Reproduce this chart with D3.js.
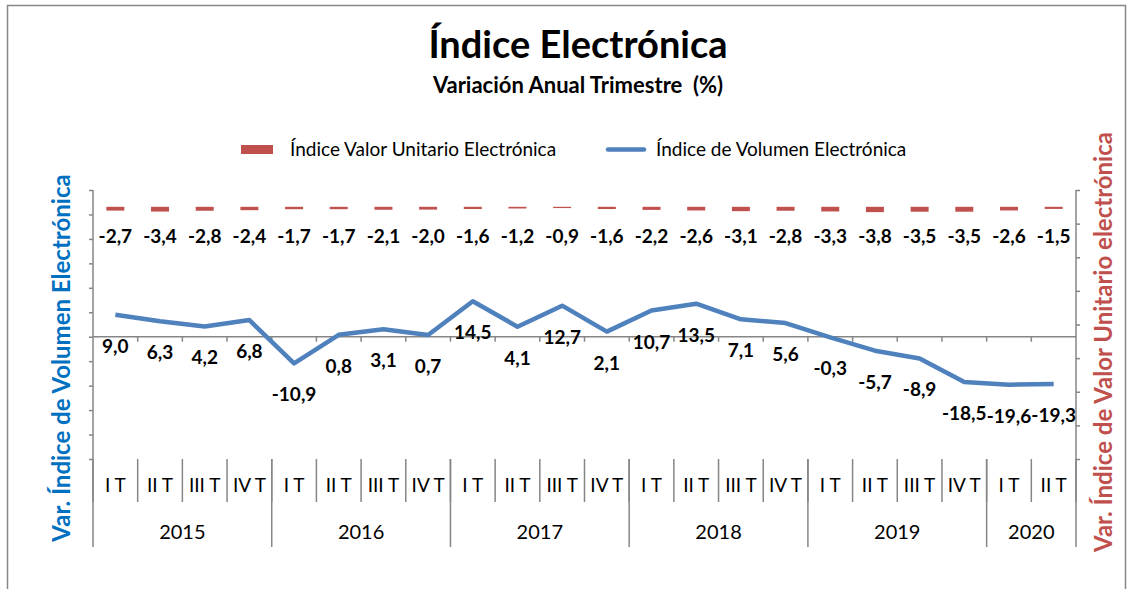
<!DOCTYPE html>
<html>
<head>
<meta charset="utf-8">
<script src="https://cdn.jsdelivr.net/npm/d3@7"></script>
<style>
  body { margin: 0; background: #fff; }
  svg text { font-family: Lato, "Open Sans", sans-serif; white-space: pre; }
</style>
</head>
<body>
<div id="chart"></div>
<script>
// data
var quarters = ["I T","II T","III T","IV T","I T","II T","III T","IV T","I T","II T","III T","IV T",
                "I T","II T","III T","IV T","I T","II T","III T","IV T","I T","II T"];
var years = ["2015","2016","2017","2018","2019","2020"];
var yearSpans = [4, 4, 4, 4, 4, 2];
var volumen = [9.0, 6.3, 4.2, 6.8, -10.9, 0.8, 3.1, 0.7, 14.5, 4.1, 12.7, 2.1,
               10.7, 13.5, 7.1, 5.6, -0.3, -5.7, -8.9, -18.5, -19.6, -19.3];
var valorUnitario = [-2.7, -3.4, -2.8, -2.4, -1.7, -1.7, -2.1, -2.0, -1.6, -1.2, -0.9, -1.6,
                     -2.2, -2.6, -3.1, -2.8, -3.3, -3.8, -3.5, -3.5, -2.6, -1.5];
var leftTicks = [-50, -40, -30, -20, -10, 0, 10, 20, 30, 40, 50, 60];
var rightTicks = [-180, -156, -132, -108, -84, -60, -36, -12, 12];

var width = 1129, height = 589,
    plotLeft = 93, plotRight = 1076, plotTop = 190, plotBottom = 459;

var blue = "#4F81BD", red = "#C0504D", grey = "#868686";
var fmt = function(v){ return v.toFixed(1).replace(".", ","); };

var svg = d3.select("#chart")
            .append("svg")
              .attr("width", width)
              .attr("height", height);

// outer border
svg.append("rect")
    .attr("x", 7.5).attr("y", 5.5)
    .attr("width", 1118).attr("height", 600)
    .attr("fill", "none")
    .attr("stroke", grey)
    .attr("stroke-width", 1.5);

svg.append("text")
    .attr("x", 578).attr("y", 58)
    .attr("text-anchor", "middle")
    .style("font-size", "38px").style("font-weight", "bold")
    .text("Índice Electrónica");

svg.append("text")
    .attr("x", 578).attr("y", 93)
    .attr("text-anchor", "middle")
    .style("font-size", "22px").style("font-weight", "bold")
    .text("Variación Anual Trimestre  (%)");

var x = d3.scaleBand()
          .range([plotLeft, plotRight])
          .domain(d3.range(quarters.length))
          .padding(0);

var y = d3.scaleLinear()
          .range([plotBottom, plotTop])
          .domain([-50, 60]);

var y2 = d3.scaleLinear()
           .range([plotBottom, plotTop])
           .domain([-180, 12]);

// left axis
var yAxis = d3.axisLeft(y).tickValues(leftTicks).tickSize(4).tickFormat("");
var gl = svg.append("g")
    .attr("transform", "translate(" + plotLeft + ",0)")
    .call(yAxis);

// right axis
var yAxis2 = d3.axisRight(y2).tickValues(rightTicks).tickSize(4).tickFormat("");
var gr = svg.append("g")
    .attr("transform", "translate(" + plotRight + ",0)")
    .call(yAxis2);

[gl, gr].forEach(function(g){
    g.selectAll("path,line").attr("stroke", grey).attr("stroke-width", 1.5);
    g.select(".domain").attr("d", "M0," + plotTop + "V" + plotBottom);
});

// zero line with category ticks
var xAxis = d3.axisBottom(x).tickSize(0).tickFormat("");
svg.append("g")
    .attr("transform", "translate(0," + y(0) + ")")
    .call(xAxis)
    .select(".domain").attr("stroke", grey).attr("stroke-width", 1.5).attr("d", "M" + plotLeft + ",0H" + plotRight);

svg.append("g")
    .selectAll("line")
    .data(d3.range(1, quarters.length))
    .enter()
    .append("line")
      .attr("x1", function(d){ return x(d); })
      .attr("x2", function(d){ return x(d); })
      .attr("y1", y(0)).attr("y2", y(0) + 5)
      .attr("stroke", grey).attr("stroke-width", 1.5);

// multi-level category axis
var edge = function(d){ return d < quarters.length ? x(d) : plotRight; };
var cat = svg.append("g");
cat.selectAll("line.q")
    .data(d3.range(0, quarters.length + 1))
    .enter()
    .append("line")
      .attr("class", "q")
      .attr("x1", edge).attr("x2", edge)
      .attr("y1", plotBottom)
      .attr("y2", plotBottom + 43)
      .attr("stroke", grey).attr("stroke-width", 1.5);

cat.selectAll("text.q")
    .data(quarters)
    .enter()
    .append("text")
      .attr("x", function(d, i){ return x(i) + x.bandwidth() / 2; })
      .attr("y", 492)
      .attr("text-anchor", "middle")
      .style("font-size", "19px")
      .text(function(d){ return d; });

var starts = [0];
yearSpans.forEach(function(s, i){ starts.push(starts[i] + s); });

cat.selectAll("line.y")
    .data(starts)
    .enter()
    .append("line")
      .attr("x1", edge).attr("x2", edge)
      .attr("y1", plotBottom)
      .attr("y2", 547)
      .attr("stroke", grey).attr("stroke-width", 1.5);

cat.selectAll("text.y")
    .data(years)
    .enter()
    .append("text")
      .attr("x", function(d, i){ return (edge(starts[i]) + edge(starts[i + 1])) / 2; })
      .attr("y", 539)
      .attr("text-anchor", "middle")
      .style("font-size", "20px")
      .text(function(d){ return d; });

// red bars (secondary axis)
var barW = 18;
svg.selectAll("rect.bar")
    .data(valorUnitario)
    .enter()
    .append("rect")
      .attr("x", function(d, i){ return x(i) + x.bandwidth() / 2 - barW / 2; })
      .attr("y", y2(0))
      .attr("width", barW)
      .attr("height", function(d){ return y2(d) - y2(0); })
      .style("fill", red);

svg.selectAll("text.rl")
    .data(valorUnitario)
    .enter()
    .append("text")
      .attr("x", function(d, i){ return x(i) + x.bandwidth() / 2; })
      .attr("y", 243)
      .attr("text-anchor", "middle")
      .style("font-size", "19px").style("font-weight", "bold")
      .text(fmt);

// blue line
var line = d3.line()
    .x(function(d, i){ return x(i) + x.bandwidth() / 2; })
    .y(function(d){ return y(d); });

svg.append("path")
    .datum(volumen)
    .attr("d", line)
    .attr("fill", "none")
    .attr("stroke", blue)
    .attr("stroke-width", 4.5)
    .attr("stroke-linejoin", "round");

svg.selectAll("text.bl")
    .data(volumen)
    .enter()
    .append("text")
      .attr("x", function(d, i){ return x(i) + x.bandwidth() / 2; })
      .attr("y", function(d){ return y(d) + 38; })
      .attr("text-anchor", "middle")
      .style("font-size", "19px").style("font-weight", "bold")
      .text(fmt);

// legend
svg.append("rect")
    .attr("x", 241).attr("y", 145)
    .attr("width", 32).attr("height", 9)
    .style("fill", red);
svg.append("text")
    .attr("x", 290).attr("y", 156)
    .style("font-size", "19px")
    .text("Índice Valor Unitario Electrónica");
svg.append("line")
    .attr("x1", 608).attr("x2", 644)
    .attr("y1", 149.5).attr("y2", 149.5)
    .attr("stroke", blue).attr("stroke-width", 4.5)
    .attr("stroke-linecap", "round");
svg.append("text")
    .attr("x", 656).attr("y", 156)
    .style("font-size", "19px")
    .text("Índice de Volumen Electrónica");

// axis titles
svg.append("text")
    .attr("transform", "translate(70,358) rotate(-90)")
    .attr("text-anchor", "middle")
    .style("font-size", "24px").style("font-weight", "bold")
    .style("fill", "#0070C0")
    .text("Var. Índice de Volumen Electrónica");

svg.append("text")
    .attr("transform", "translate(1112,342) rotate(-90)")
    .attr("text-anchor", "middle")
    .style("font-size", "24px").style("font-weight", "bold")
    .style("fill", red)
    .text("Var. Índice de Valor Unitario electrónica");
</script>
</body>
</html>
